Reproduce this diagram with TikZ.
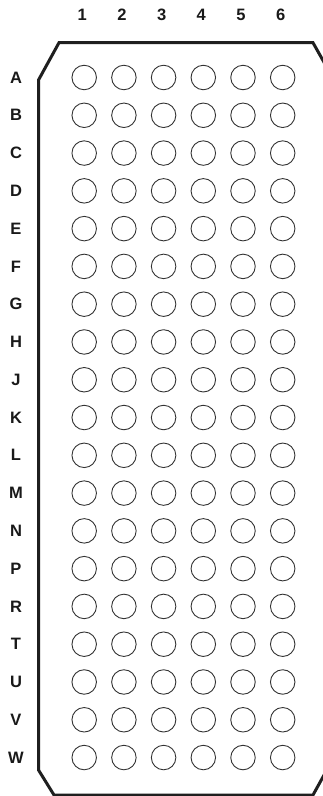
\documentclass[tikz,border=0pt]{standalone}
\usepackage{fontspec}
\setmainfont{Liberation Sans}
\begin{document}
\begin{tikzpicture}[x=1pt,y=-1pt,
  ball/.style={circle,draw=black!80,line width=0.9pt,minimum size=24.5pt,inner sep=0pt},
  lbl/.style={font=\fontsize{16.5}{19}\selectfont\bfseries,text=black!90,inner sep=0pt},
  outline/.style={line width=3pt,line join=miter,draw=black!88}]
\clip (0,0) rectangle (323,796);
\fill[white] (0,0) rectangle (323,796);
% package outline
\draw[outline] (59,42.7) -- (313,42.7) -- (334,80) -- (334,757) -- (313,795) -- (54,795) -- (38.5,770) -- (38.5,80) -- cycle;
% column labels
\foreach \c in {1,...,6}{
  \node[lbl] (col\c) at ({84.2+39.7*(\c-1)-2},15) {\c};
}
% rows
\foreach \r [count=\i from 0] in {A,B,C,D,E,F,G,H,J,K,L,M,N,P,R,T,U,V,W}{
  \node[lbl] (row\r) at (16,{77.5+37.78*\i}) {\r};
  \foreach \c in {1,...,6}{
    \node[ball] (b\r\c) at ({84.2+39.7*(\c-1)},{77.5+37.78*\i}) {};
  }
}
\end{tikzpicture}
\end{document}
